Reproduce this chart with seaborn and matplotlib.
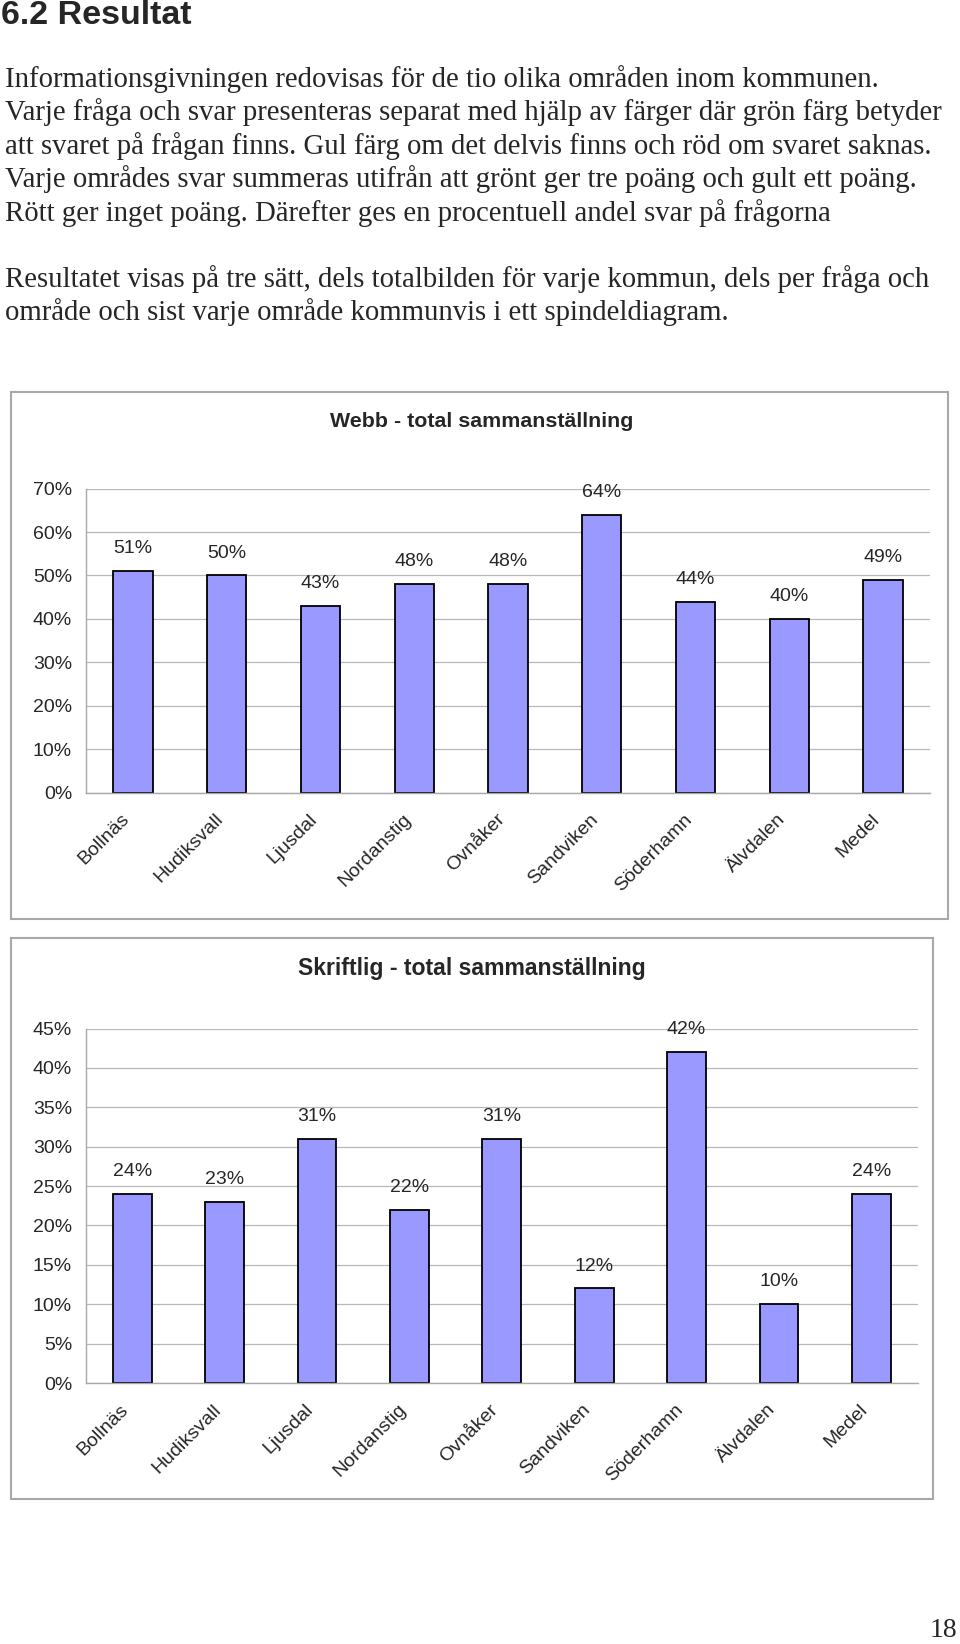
import numpy as np
import matplotlib
matplotlib.use('Agg')
import matplotlib.pyplot as plt
import seaborn as sns
from matplotlib.patches import Rectangle
from matplotlib.ticker import FuncFormatter

# Data
kommuner = ['Bollnäs', 'Hudiksvall', 'Ljusdal', 'Nordanstig', 'Ovnåker',
            'Sandviken', 'Söderhamn', 'Älvdalen', 'Medel']
webb = [51, 50, 43, 48, 48, 64, 44, 40, 49]
skriftlig = [24, 23, 31, 22, 31, 12, 42, 10, 24]
webb_ticks = [0, 10, 20, 30, 40, 50, 60, 70]
skriftlig_ticks = [0, 5, 10, 15, 20, 25, 30, 35, 40, 45]

rubrik = '6.2 Resultat'
stycke1 = ['Informationsgivningen redovisas för de tio olika områden inom kommunen.',
           'Varje fråga och svar presenteras separat med hjälp av färger där grön färg betyder',
           'att svaret på frågan finns. Gul färg om det delvis finns och röd om svaret saknas.',
           'Varje områdes svar summeras utifrån att grönt ger tre poäng och gult ett poäng.',
           'Rött ger inget poäng. Därefter ges en procentuell andel svar på frågorna']
stycke2 = ['Resultatet visas på tre sätt, dels totalbilden för varje kommun, dels per fråga och',
           'område och sist varje område kommunvis i ett spindeldiagram.']

sns.set_style('white')
plt.rcParams['font.family'] = ['Liberation Sans', 'DejaVu Sans']

W, H = 960, 1644
fig = plt.figure(figsize=(W / 100, H / 100), dpi=100)

def fx(px):
    return px / W

def fy(py):
    return 1 - py / H

# Text på sidan
fig.text(fx(1), fy(16), rubrik, fontsize=24.5, fontweight='bold', va='center', ha='left')
for i, rad in enumerate(stycke1):
    fig.text(fx(5), fy(78.6 + i * 33.55), rad, fontsize=20.7, family='Liberation Serif',
             va='center', ha='left')
for i, rad in enumerate(stycke2):
    fig.text(fx(5), fy(278.9 + i * 33.55), rad, fontsize=20.7, family='Liberation Serif',
             va='center', ha='left')
fig.text(fx(957), fy(1630), '18', fontsize=20, family='Liberation Serif', va='center', ha='right')

GRA = '#a8a8a8'
BAR = '#9999FF'


def diagram(box, axpos, titel, titelpos, titelsize, varden, ticks):
    # ram runt diagrammet
    x0, y0, x1, y1 = box
    fig.add_artist(Rectangle((fx(x0), fy(y1)), fx(x1 - x0), (y1 - y0) / H,
                             transform=fig.transFigure, fill=False,
                             edgecolor=GRA, linewidth=1.5))
    fig.text(fx(titelpos[0]), fy(titelpos[1]), titel, fontsize=titelsize, fontweight='bold',
             ha='center', va='center')
    l, t, r, b = axpos
    ax = fig.add_axes([fx(l), fy(b), fx(r - l), (b - t) / H])
    sns.barplot(x=kommuner, y=varden, ax=ax, color=BAR, saturation=1, width=0.42,
                edgecolor='black', linewidth=1.3)
    ax.set_xlim(-0.5, len(kommuner) - 0.5)
    ax.set_ylim(0, ticks[-1])
    ax.set_yticks(ticks)
    ax.yaxis.set_major_formatter(FuncFormatter(lambda v, p: f'{v:.0f}%'))
    ax.yaxis.grid(True, color='#b8b8b8', linewidth=0.9)
    ax.set_axisbelow(True)
    ax.set_xticks(range(len(kommuner)))
    ax.set_xticklabels(kommuner, rotation=45, ha='right')
    ax.set_xticks(np.arange(-0.5, len(kommuner), 1), minor=True)
    ax.tick_params(axis='x', which='major', length=0, pad=13, labelsize=14)
    ax.tick_params(axis='x', which='minor', length=4, color=GRA, width=1, direction='out')
    ax.tick_params(axis='y', length=4, color=GRA, width=1, direction='out', pad=6, labelsize=14)
    ax.set_xlabel('')
    ax.set_ylabel('')
    for s in ['top', 'right']:
        ax.spines[s].set_visible(False)
    for s in ['left', 'bottom']:
        ax.spines[s].set_color(GRA)
        ax.spines[s].set_linewidth(1)
    ax.bar_label(ax.containers[0], labels=[f'{v}%' for v in varden], padding=10, fontsize=14)
    return ax


diagram((10.5, 392, 948, 918.5), (86, 488.6, 930, 792.6),
        'Webb - total sammanställning', (482, 421.5), 15.4, webb, webb_ticks)
diagram((10.5, 938, 933, 1499), (86, 1028.5, 917.5, 1383),
        'Skriftlig - total sammanställning', (472, 968), 16.6, skriftlig, skriftlig_ticks)

fig.savefig('out.png', dpi=100, facecolor='white')
